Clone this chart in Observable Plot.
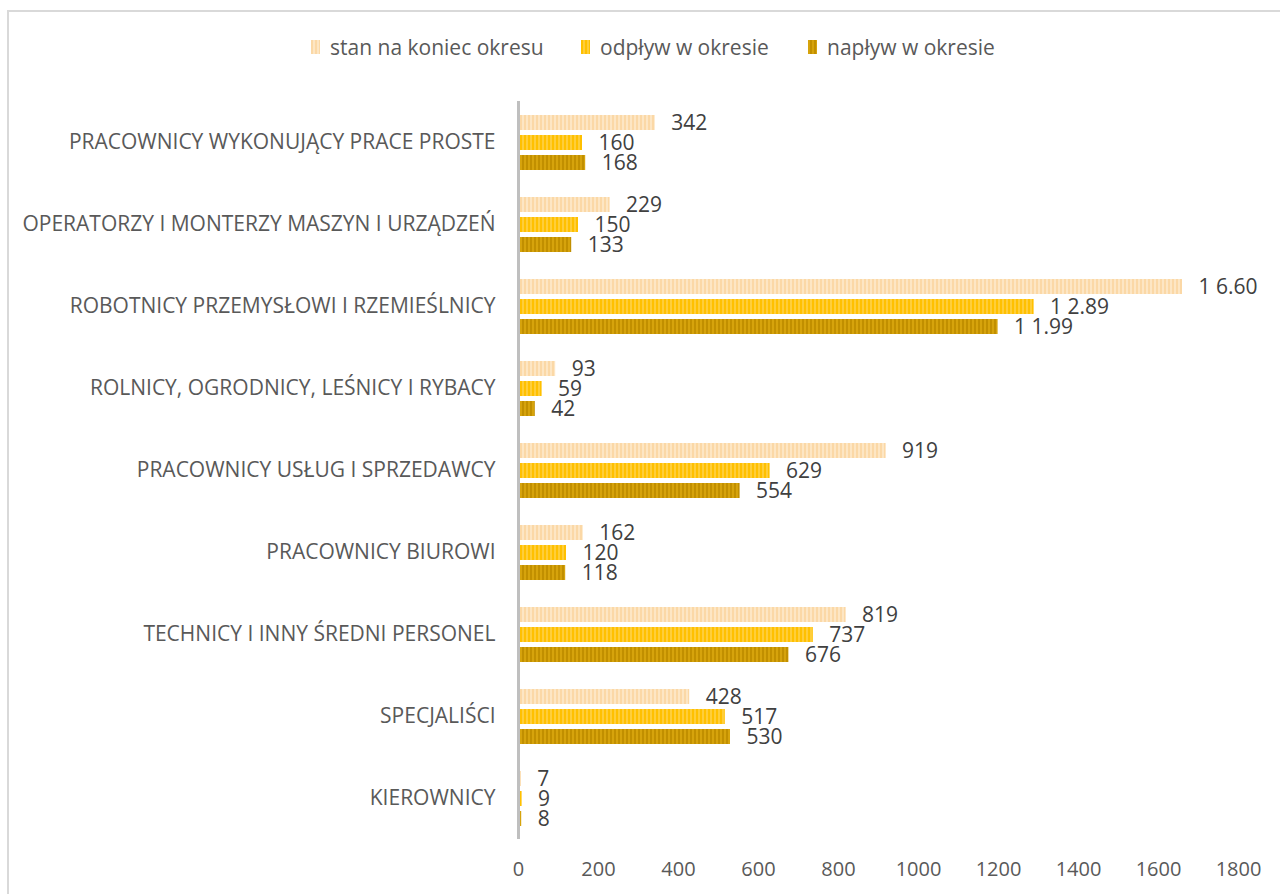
<!DOCTYPE html>
<html>
<head>
<meta charset="utf-8">
<script src="https://cdn.jsdelivr.net/npm/d3@7"></script>
<script src="https://cdn.jsdelivr.net/npm/@observablehq/plot@0.6"></script>
<style>
  html, body { margin: 0; padding: 0; background: #fff; width: 1280px; height: 894px; overflow: hidden; }
  body { position: relative; font-family: "Open Sans", sans-serif; }
  #frame { position: absolute; left: 7px; top: 10px; width: 1300px; height: 900px;
           border-left: 2px solid #D9D9D9; border-top: 2px solid #D9D9D9; }
  #legend { position: absolute; top: 33px; left: 0; width: 1280px; height: 28px; }
  .item { position: absolute; top: 0; display: flex; align-items: center; font-size: 21px; color: #595959; white-space: nowrap; }
  .sw { width: 9px; height: 14px; margin-right: 10px; }
  #chart { position: absolute; top: 80px; left: 0; }
</style>
</head>
<body>
<div id="frame"></div>
<div id="legend"></div>
<div id="chart"></div>
<script>
const categories = [
  "PRACOWNICY WYKONUJĄCY PRACE PROSTE",
  "OPERATORZY I MONTERZY MASZYN I URZĄDZEŃ",
  "ROBOTNICY PRZEMYSŁOWI I RZEMIEŚLNICY",
  "ROLNICY, OGRODNICY, LEŚNICY I RYBACY",
  "PRACOWNICY USŁUG I SPRZEDAWCY",
  "PRACOWNICY BIUROWI",
  "TECHNICY I INNY ŚREDNI PERSONEL",
  "SPECJALIŚCI",
  "KIEROWNICY"
];
const seriesNames = ["stan na koniec okresu", "odpływ w okresie", "napływ w okresie"];
const stan    = [342, 229, 1660, 93, 919, 162, 819, 428, 7];
const odplyw  = [160, 150, 1289, 59, 629, 120, 737, 517, 9];
const naplyw  = [168, 133, 1199, 42, 554, 118, 676, 530, 8];
const labelsStan   = ["342", "229", "1 6.60", "93", "919", "162", "819", "428", "7"];
const labelsOdplyw = ["160", "150", "1 2.89", "59", "629", "120", "737", "517", "9"];
const labelsNaplyw = ["168", "133", "1 1.99", "42", "554", "118", "676", "530", "8"];
const xTicks = [0, 200, 400, 600, 800, 1000, 1200, 1400, 1600, 1800];

const colors = {
  "stan na koniec okresu": ["#FBD8A6", "#FDE6C4"],
  "odpływ w okresie": ["#FFC000", "#FFCE3A"],
  "napływ w okresie": ["#D6A30C", "#C18F00"]
};
const patternIds = ["pStan", "pOdplyw", "pNaplyw"];

const valueSets = [stan, odplyw, naplyw];
const labelSets = [labelsStan, labelsOdplyw, labelsNaplyw];
const data = [];
categories.forEach((c, i) => {
  seriesNames.forEach((s, j) => {
    data.push({category: c, series: s, value: valueSets[j][i], label: labelSets[j][i]});
  });
});

const font = "'Open Sans', sans-serif";
const chart = Plot.plot({
  width: 1280,
  height: 814,
  marginTop: 20,
  marginBottom: 55,
  marginLeft: 518,
  marginRight: 42,
  style: {fontFamily: font, fontSize: "20px", color: "#595959", background: "transparent"},
  x: {domain: [0, 1800], axis: null},
  y: {domain: seriesNames, axis: null, paddingInner: 0.25, paddingOuter: 0.6},
  fy: {domain: categories, padding: 0, label: null, axis: null},
  color: {domain: seriesNames, range: patternIds.map(id => `url(#${id})`)},
  marks: [
    Plot.axisFy({anchor: "left", tickSize: 0, tickPadding: 23, fontSize: 21, label: null}),
    Plot.axisX({anchor: "bottom", ticks: xTicks, tickSize: 0, tickPadding: 22, fontSize: 20, label: null, tickFormat: d => String(d)}),
    Plot.barX(data, {x: "value", y: "series", fy: "category", fill: "series"}),
    Plot.text(data, {x: "value", y: "series", fy: "category", text: "label", dx: 16, textAnchor: "start", fontSize: 21, fill: "#404040"}),
    Plot.ruleX([0], {stroke: "#BFBFBF", strokeWidth: 3})
  ]
});

// stripe patterns
const svg = d3.select(chart);
const defs = svg.insert("defs", ":first-child");
seriesNames.forEach((s, j) => {
  const p = defs.append("pattern").attr("id", patternIds[j]).attr("patternUnits", "userSpaceOnUse")
    .attr("width", 4).attr("height", 20);
  p.append("rect").attr("width", 4).attr("height", 20).attr("fill", colors[s][0]);
  p.append("rect").attr("x", 2).attr("width", 2).attr("height", 20).attr("fill", colors[s][1]);
});
document.getElementById("chart").appendChild(chart);

// legend
const legend = document.getElementById("legend");
const legendLeft = [311, 581, 808];
seriesNames.forEach((s, j) => {
  const it = document.createElement("div");
  it.className = "item";
  it.style.left = legendLeft[j] + "px";
  const sw = document.createElement("span");
  sw.className = "sw";
  sw.style.background = `repeating-linear-gradient(90deg, ${colors[s][0]} 0 2px, ${colors[s][1]} 2px 4px)`;
  const tx = document.createElement("span");
  tx.textContent = s;
  it.appendChild(sw);
  it.appendChild(tx);
  legend.appendChild(it);
});
</script>
</body>
</html>
